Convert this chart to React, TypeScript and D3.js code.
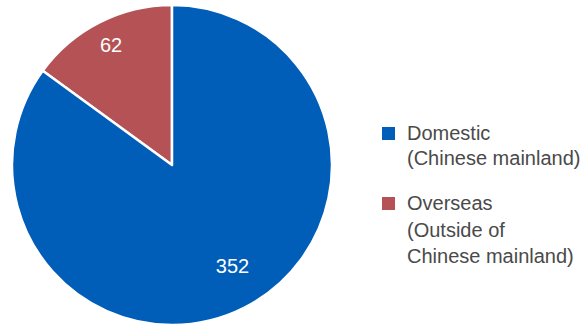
import React from "react";
import * as d3 from "d3";

const categories = ["Overseas", "Domestic"];
const values = [62, 352];
const legendLines = [
  ["Domestic", "(Chinese mainland)"],
  ["Overseas", "(Outside of", "Chinese mainland)"],
];
const legendKeys = ["Domestic", "Overseas"];

const colors: Record<string, string> = {
  Domestic: "#005EB8",
  Overseas: "#B45256",
};

export default function App() {
  const W = 581, H = 325;
  const cx = 172, cy = 165, R = 160;
  const data = categories.map((c, i) => ({ cat: c, value: values[i] }));
  const pie = d3
    .pie<{ cat: string; value: number }>()
    .value((d) => d.value)
    .sort(null)
    .startAngle(-(values[0] / d3.sum(values)) * Math.PI * 2)
    .endAngle(Math.PI * 2 - (values[0] / d3.sum(values)) * Math.PI * 2);
  const arcs = pie(data);
  const arc = d3.arc<any>().innerRadius(0).outerRadius(R);
  const labelFrac: Record<string, number> = { Overseas: 0.84, Domestic: 0.71 };
  const labelShift: Record<string, number> = { Overseas: 0, Domestic: 9 };

  const font = "'Liberation Sans', Arial, Helvetica, sans-serif";
  const legendY = [140, 210];
  const lineH = [25, 26.5];

  return (
    <svg
      width={W}
      height={H}
      style={{ position: "absolute", left: 0, top: 0 }}
      fontFamily={font}
    >
      <g transform={`translate(${cx},${cy})`}>
        {arcs.map((a) => (
          <path
            key={a.data.cat}
            d={arc(a) as string}
            fill={colors[a.data.cat]}
            stroke="#fff"
            strokeWidth={2.5}
            strokeLinejoin="round"
          />
        ))}
        {arcs.map((a) => {
          const r = R * labelFrac[a.data.cat];
          const c = d3.arc<any>().innerRadius(r).outerRadius(r).centroid(a);
          return (
            <text
              key={"l" + a.data.cat}
              x={c[0] + labelShift[a.data.cat]}
              y={c[1]}
              textAnchor="middle"
              dominantBaseline="central"
              fill="#fff"
              fontSize={20}
            >
              {a.data.value}
            </text>
          );
        })}
      </g>
      {legendKeys.map((k, i) => (
        <g key={k}>
          <rect
            x={382}
            y={legendY[i] - 13}
            width={13}
            height={13}
            fill={colors[k]}
          />
          {legendLines[i].map((t, j) => (
            <text
              key={j}
              x={407}
              y={legendY[i] + j * lineH[i]}
              fontSize={20}
              fill="#4a4a4a"
            >
              {t}
            </text>
          ))}
        </g>
      ))}
    </svg>
  );
}
